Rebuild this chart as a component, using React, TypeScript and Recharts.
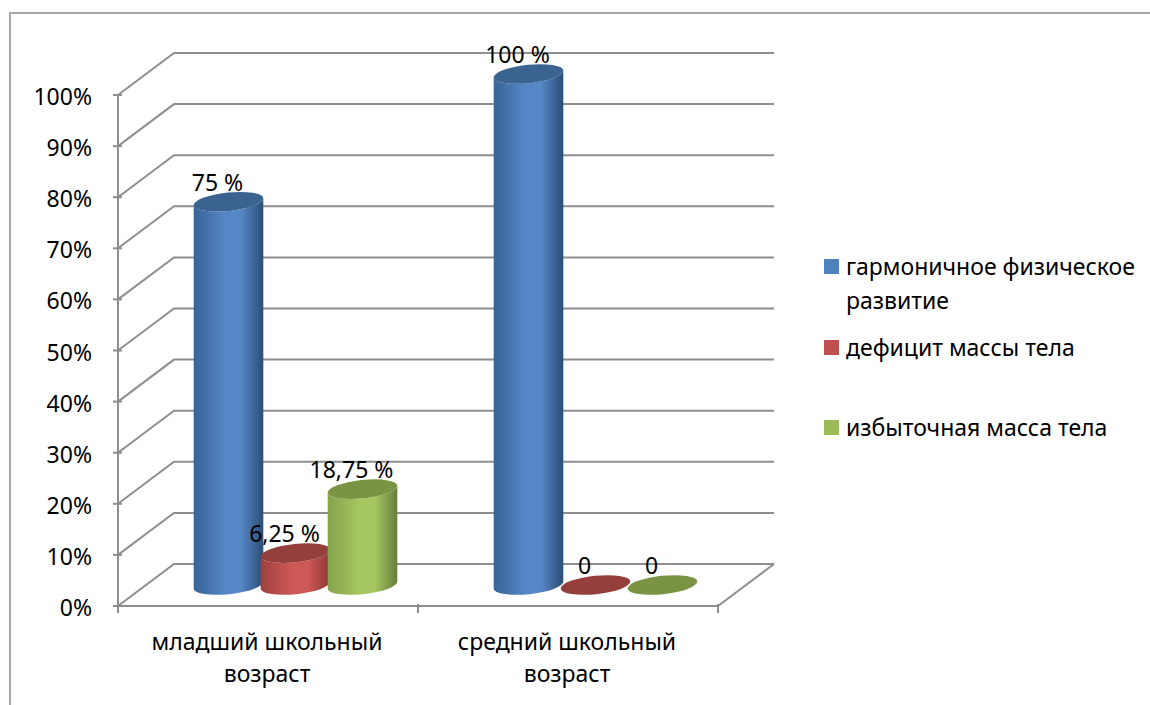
import React from 'react';
import { BarChart, Bar, XAxis, YAxis, CartesianGrid, Legend, LabelList } from 'recharts';

// Chart values, in percent of each age group
const ageGroups = ['младший школьный возраст', 'средний школьный возраст'];
const harmonicValues = [75, 100];
const deficitValues = [6.25, 0];
const excessValues = [18.75, 0];
const percentTicks = [0, 10, 20, 30, 40, 50, 60, 70, 80, 90, 100];
const seriesNames = ['гармоничное физическое развитие', 'дефицит массы тела', 'избыточная масса тела'];

const rows = ageGroups.map((group, i) => ({
  group,
  harmonic: harmonicValues[i],
  deficit: deficitValues[i],
  excess: excessValues[i],
}));

const FONT = '"Noto Sans", sans-serif';
const FONT_SIZE = 23;
const GRID = '#8e8e8e';
const LINE_WIDTH = 2;

// Depth of the pseudo-3D box: the back wall is shifted by this much
const DEPTH_X = 56;
const DEPTH_Y = 42;
const BAND_HALF = 150;
const TILT = -6;

const palette = [
  { id: 'cylBlue', legend: '#4f81bd', top: '#3b6390', edge0: '#386396', mid: '#5586c6', edge1: '#2c4d75' },
  { id: 'cylRed', legend: '#c0504d', top: '#953f3c', edge0: '#a0413f', mid: '#cd5855', edge1: '#8d3836' },
  { id: 'cylGreen', legend: '#9bbb59', top: '#7a9444', edge0: '#86a24c', mid: '#a5c660', edge1: '#667e3a' },
];

// Cylinder standing in the middle of the floor depth
const cylinder = (tone: (typeof palette)[number]) => (props: any) => {
  const { x, y, width, height } = props;
  const rx = 35;
  const ry = 9.2;
  const rad = (TILT * Math.PI) / 180;
  const cx = x + width / 2 + DEPTH_X / 2 - 1;
  const top = y - DEPTH_Y / 2;
  const bottom = y + height - DEPTH_Y / 2;
  const dx = rx * Math.cos(rad);
  const dy = rx * Math.sin(rad);
  const body =
    `M ${cx - dx} ${top - dy} L ${cx - dx} ${bottom - dy} ` +
    `A ${rx} ${ry} ${TILT} 0 0 ${cx + dx} ${bottom + dy} ` +
    `L ${cx + dx} ${top + dy} A ${rx} ${ry} ${TILT} 0 1 ${cx - dx} ${top - dy} Z`;
  return (
    <g>
      {height > 0 && <path d={body} fill={`url(#${tone.id})`} />}
      <ellipse cx={cx} cy={top} rx={rx} ry={ry} fill={tone.top} transform={`rotate(${TILT} ${cx} ${top})`} />
    </g>
  );
};

// Value caption sitting just above the cylinder's cap
const valueCaption = (props: any) => {
  const { x, y, width, value } = props;
  const v = Number(value);
  const text = v === 0 ? '0' : `${String(v).replace('.', ',')} %`;
  return (
    <text
      x={x + width / 2 + DEPTH_X / 2 - 12}
      y={y - DEPTH_Y / 2 - 11}
      textAnchor="middle"
      fontFamily={FONT}
      fontSize={FONT_SIZE}
      fill="#000"
    >
      {text}
    </text>
  );
};

// Each grid line continues up the side wall and along the back wall
const wallLine = (props: any) => {
  const { x1, x2, y1, index } = props;
  const bx = x1 + DEPTH_X;
  const by = y1 - DEPTH_Y;
  return (
    <g key={`wall-${index}`} stroke={GRID} strokeWidth={LINE_WIDTH} fill="none">
      <path d={`M ${x1} ${y1} L ${bx} ${by} L ${x2 + DEPTH_X} ${by}`} />
      {y1 > 600 && <path d={`M ${x2} ${y1} L ${x2 + DEPTH_X} ${by}`} />}
    </g>
  );
};

// Two-line category caption with tick marks on the band boundaries
const groupTick = (props: any) => {
  const { x, y, payload } = props;
  const words = String(payload.value).split(' ');
  const first = words.slice(0, 2).join(' ');
  const second = words.slice(2).join(' ');
  return (
    <g>
      <line x1={x - BAND_HALF} y1={y - 8} x2={x - BAND_HALF} y2={y + 1} stroke={GRID} strokeWidth={LINE_WIDTH} />
      <line x1={x + BAND_HALF} y1={y - 8} x2={x + BAND_HALF} y2={y + 1} stroke={GRID} strokeWidth={LINE_WIDTH} />
      <text textAnchor="middle" fontFamily={FONT} fontSize={FONT_SIZE} fill="#000">
        <tspan x={x - 1} y={y + 38}>{first}</tspan>
        <tspan x={x - 1} y={y + 70}>{second}</tspan>
      </text>
    </g>
  );
};

const percentTick = (props: any) => {
  const { x, y, payload } = props;
  return (
    <g>
      <line x1={x + 1} y1={y} x2={x + 10} y2={y} stroke={GRID} strokeWidth={LINE_WIDTH} />
      <text x={x - 20} y={y + 10} textAnchor="end" fontFamily={FONT} fontSize={FONT_SIZE} fill="#000">
        {payload.value}%
      </text>
    </g>
  );
};

const legendGaps = [13, 46, 0];

const legendContent = (props: any) => (
  <div style={{ fontFamily: FONT, fontSize: FONT_SIZE, lineHeight: '34px', color: '#000' }}>
    {(props.payload ?? []).map((entry: any, i: number) => (
      <div key={entry.value} style={{ display: 'flex', marginBottom: legendGaps[i] }}>
        <span
          style={{ width: 15, height: 15, marginTop: 10, marginRight: 7, flex: 'none', background: palette[i].legend }}
        />
        <span>{entry.value}</span>
      </div>
    ))}
  </div>
);

export default function App() {
  return (
    <div style={{ position: 'absolute', left: 0, top: 0, width: 1150, height: 705, background: '#fff' }}>
      <div
        style={{
          position: 'absolute',
          left: 9,
          top: 12,
          width: 1141,
          height: 693,
          borderLeft: '2px solid #a8a8a8',
          borderTop: '2px solid #a8a8a8',
          boxSizing: 'border-box',
        }}
      />
      <BarChart
        width={1150}
        height={705}
        data={rows}
        margin={{ top: 95, right: 432, bottom: 0, left: 0 }}
        barSize={67}
        barGap={0}
        style={{ position: 'absolute', left: 0, top: 0 }}
      >
        <defs>
          {palette.map((t) => (
            <linearGradient key={t.id} id={t.id} x1="0" y1="0" x2="1" y2="0">
              <stop offset="0%" stopColor={t.edge0} />
              <stop offset="45%" stopColor={t.mid} />
              <stop offset="68%" stopColor={t.mid} />
              <stop offset="100%" stopColor={t.edge1} />
            </linearGradient>
          ))}
        </defs>
        <CartesianGrid vertical={false} horizontal={wallLine} />
        <XAxis
          dataKey="group"
          interval={0}
          height={99}
          axisLine={{ stroke: GRID, strokeWidth: LINE_WIDTH }}
          tickLine={false}
          tick={groupTick}
          tickMargin={0}
        />
        <YAxis
          domain={[0, 100]}
          ticks={percentTicks}
          width={118}
          axisLine={{ stroke: GRID, strokeWidth: LINE_WIDTH }}
          tickLine={false}
          tick={percentTick}
          tickMargin={0}
          interval={0}
        />
        <Legend
          layout="vertical"
          align="center"
          verticalAlign="middle"
          content={legendContent}
          wrapperStyle={{ left: 824, top: 249, width: 320, height: 'auto' }}
        />
        <Bar dataKey="harmonic" name={seriesNames[0]} fill={palette[0].legend} isAnimationActive={false} shape={cylinder(palette[0])}>
          <LabelList dataKey="harmonic" content={valueCaption} />
        </Bar>
        <Bar dataKey="deficit" name={seriesNames[1]} fill={palette[1].legend} isAnimationActive={false} shape={cylinder(palette[1])}>
          <LabelList dataKey="deficit" content={valueCaption} />
        </Bar>
        <Bar dataKey="excess" name={seriesNames[2]} fill={palette[2].legend} isAnimationActive={false} shape={cylinder(palette[2])}>
          <LabelList dataKey="excess" content={valueCaption} />
        </Bar>
      </BarChart>
    </div>
  );
}
